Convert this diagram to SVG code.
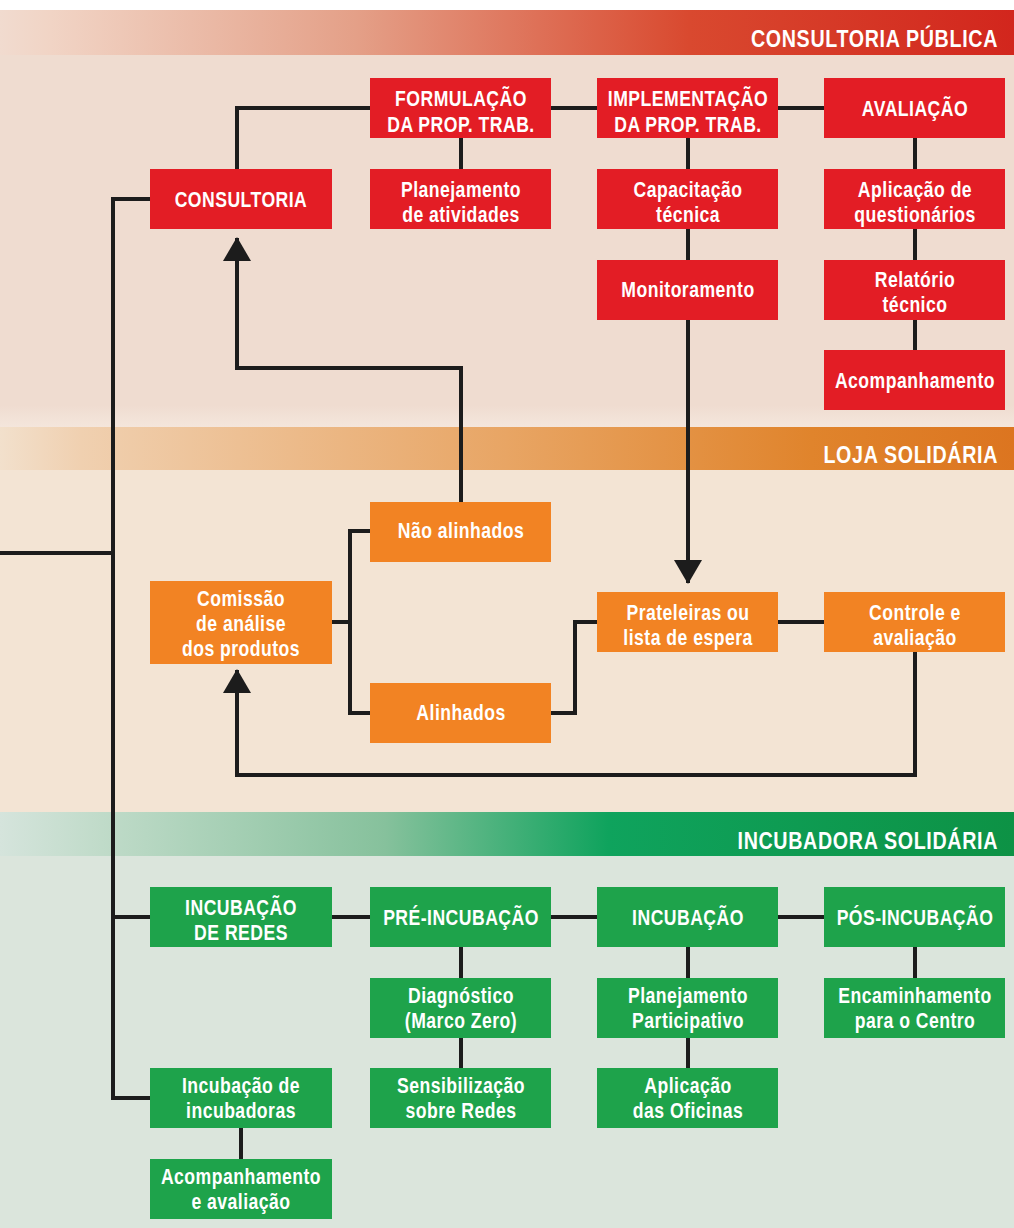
<svg xmlns="http://www.w3.org/2000/svg" width="1014" height="1228" viewBox="0 0 1014 1228">
<defs>
<linearGradient id="gRed" x1="0" y1="0" x2="1" y2="0">
<stop offset="0" stop-color="#f1dbcf"/>
<stop offset="0.05" stop-color="#f1d4c5"/>
<stop offset="0.35" stop-color="#e4a088"/>
<stop offset="0.68" stop-color="#d9492f"/>
<stop offset="1" stop-color="#d2261d"/>
</linearGradient>
<linearGradient id="gOrange" x1="0" y1="0" x2="1" y2="0">
<stop offset="0" stop-color="#f2e0cc"/>
<stop offset="0.08" stop-color="#f0d0b0"/>
<stop offset="0.5" stop-color="#e8a564"/>
<stop offset="0.8" stop-color="#e0842c"/>
<stop offset="1" stop-color="#dc7520"/>
</linearGradient>
<linearGradient id="gGreen" x1="0" y1="0" x2="1" y2="0">
<stop offset="0" stop-color="#d5e4dc"/>
<stop offset="0.1" stop-color="#c0dbc9"/>
<stop offset="0.38" stop-color="#86c19c"/>
<stop offset="0.6" stop-color="#0fa35d"/>
<stop offset="1" stop-color="#0d9245"/>
</linearGradient>
<linearGradient id="fadeTop" x1="0" y1="0" x2="0" y2="1">
<stop offset="0" stop-color="#efdcd0"/>
<stop offset="1" stop-color="#f4e6dc"/>
</linearGradient>
<marker id="arr" viewBox="0 0 24 28" refX="23" refY="14" markerWidth="24" markerHeight="28" markerUnits="userSpaceOnUse" orient="auto">
<path d="M0,0 L24,14 L0,28 Z" fill="#1c1c1c"/>
</marker>
<style>
.red{fill:#e31d25}
.org{fill:#f28323}
.grn{fill:#1ea34b}
.t{font-family:"Liberation Sans",Arial,sans-serif;font-weight:bold;font-size:22px;fill:#ffffff;text-anchor:middle;letter-spacing:0.6px;transform-box:fill-box;transform-origin:50% 50%;transform:scaleX(0.8)}
.h{font-family:"Liberation Sans",Arial,sans-serif;font-weight:bold;font-size:24px;fill:#ffffff;text-anchor:end;letter-spacing:0.8px;transform-box:fill-box;transform-origin:100% 50%;transform:scaleX(0.82)}
.c{fill:none;stroke:#1c1c1c;stroke-width:4}
</style>
</defs>

<!-- backgrounds -->
<rect x="0" y="0" width="1014" height="1228" fill="#ffffff"/>
<rect x="0" y="55" width="1014" height="372" fill="#efdcd0"/>
<rect x="0" y="405" width="1014" height="22" fill="url(#fadeTop)"/>
<rect x="0" y="470" width="1014" height="342" fill="#f3e4d4"/>
<rect x="0" y="856" width="1014" height="372" fill="#dbe5dc"/>

<!-- headers -->
<g id="hdr-consultoria">
<rect x="0" y="10" width="1014" height="45" fill="url(#gRed)"/>
<text class="h" x="998" y="47">CONSULTORIA PÚBLICA</text>
</g>
<g id="hdr-loja">
<rect x="0" y="427" width="1014" height="43" fill="url(#gOrange)"/>
<text class="h" x="998" y="463">LOJA SOLIDÁRIA</text>
</g>
<g id="hdr-incubadora">
<rect x="0" y="812" width="1014" height="44" fill="url(#gGreen)"/>
<text class="h" x="998" y="849">INCUBADORA SOLIDÁRIA</text>
</g>

<!-- connectors -->
<g id="connectors">
<path class="c" d="M0,553 H113"/>
<path class="c" d="M150,199 H113 V1098 H150"/>
<path class="c" d="M113,917 H150"/>
<path class="c" d="M237,169 V108 H370"/>
<path class="c" d="M551,108 H597"/>
<path class="c" d="M778,108 H824"/>
<path class="c" d="M461,138 V169"/>
<path class="c" d="M688,138 V169 M688,229 V260"/>
<path class="c" d="M688,320 V583" marker-end="url(#arr)"/>
<path class="c" d="M915,138 V169 M915,229 V260 M915,320 V350"/>
<path class="c" d="M461,502 V368 H237 V238" marker-end="url(#arr)"/>
<path class="c" d="M332,622 H350 M370,531 H350 V713 H370"/>
<path class="c" d="M551,713 H575 V622 H597"/>
<path class="c" d="M778,622 H824"/>
<path class="c" d="M915,652 V775 H237 V670" marker-end="url(#arr)"/>
<path class="c" d="M332,917 H370 M551,917 H597 M778,917 H824"/>
<path class="c" d="M461,947 V978 M461,1038 V1068"/>
<path class="c" d="M688,947 V978 M688,1038 V1068"/>
<path class="c" d="M915,947 V978"/>
<path class="c" d="M241,1128 V1159"/>
</g>

<!-- Consultoria nodes -->
<g id="n-formulacao"><rect class="red" x="370" y="78" width="181" height="60"/><text class="t" x="461" y="106">FORMULAÇÃO</text><text class="t" x="461" y="132">DA PROP. TRAB.</text></g>
<g id="n-implementacao"><rect class="red" x="597" y="78" width="181" height="60"/><text class="t" x="688" y="106">IMPLEMENTAÇÃO</text><text class="t" x="688" y="132">DA PROP. TRAB.</text></g>
<g id="n-avaliacao"><rect class="red" x="824" y="78" width="181" height="60"/><text class="t" x="915" y="116">AVALIAÇÃO</text></g>
<g id="n-consultoria"><rect class="red" x="150" y="169" width="182" height="60"/><text class="t" x="241" y="207">CONSULTORIA</text></g>
<g id="n-planejamento"><rect class="red" x="370" y="169" width="181" height="60"/><text class="t" x="461" y="197">Planejamento</text><text class="t" x="461" y="222">de atividades</text></g>
<g id="n-capacitacao"><rect class="red" x="597" y="169" width="181" height="60"/><text class="t" x="688" y="197">Capacitação</text><text class="t" x="688" y="222">técnica</text></g>
<g id="n-aplicacao"><rect class="red" x="824" y="169" width="181" height="60"/><text class="t" x="915" y="197">Aplicação de</text><text class="t" x="915" y="222">questionários</text></g>
<g id="n-monitoramento"><rect class="red" x="597" y="260" width="181" height="60"/><text class="t" x="688" y="297">Monitoramento</text></g>
<g id="n-relatorio"><rect class="red" x="824" y="260" width="181" height="60"/><text class="t" x="915" y="287">Relatório</text><text class="t" x="915" y="312">técnico</text></g>
<g id="n-acompanhamento"><rect class="red" x="824" y="350" width="181" height="60"/><text class="t" x="915" y="388">Acompanhamento</text></g>

<!-- Loja nodes -->
<g id="n-naoalinhados"><rect class="org" x="370" y="502" width="181" height="60"/><text class="t" x="461" y="538">Não alinhados</text></g>
<g id="n-comissao"><rect class="org" x="150" y="581" width="182" height="83"/><text class="t" x="241" y="606">Comissão</text><text class="t" x="241" y="631">de análise</text><text class="t" x="241" y="656">dos produtos</text></g>
<g id="n-prateleiras"><rect class="org" x="597" y="592" width="181" height="60"/><text class="t" x="688" y="620">Prateleiras ou</text><text class="t" x="688" y="645">lista de espera</text></g>
<g id="n-controle"><rect class="org" x="824" y="592" width="181" height="60"/><text class="t" x="915" y="620">Controle e</text><text class="t" x="915" y="645">avaliação</text></g>
<g id="n-alinhados"><rect class="org" x="370" y="683" width="181" height="60"/><text class="t" x="461" y="720">Alinhados</text></g>

<!-- Incubadora nodes -->
<g id="n-incredes"><rect class="grn" x="150" y="887" width="182" height="60"/><text class="t" x="241" y="915">INCUBAÇÃO</text><text class="t" x="241" y="940">DE REDES</text></g>
<g id="n-preinc"><rect class="grn" x="370" y="887" width="181" height="60"/><text class="t" x="461" y="925">PRÉ-INCUBAÇÃO</text></g>
<g id="n-incubacao"><rect class="grn" x="597" y="887" width="181" height="60"/><text class="t" x="688" y="925">INCUBAÇÃO</text></g>
<g id="n-posinc"><rect class="grn" x="824" y="887" width="181" height="60"/><text class="t" x="915" y="925">PÓS-INCUBAÇÃO</text></g>
<g id="n-diagnostico"><rect class="grn" x="370" y="978" width="181" height="60"/><text class="t" x="461" y="1003">Diagnóstico</text><text class="t" x="461" y="1028">(Marco Zero)</text></g>
<g id="n-planpart"><rect class="grn" x="597" y="978" width="181" height="60"/><text class="t" x="688" y="1003">Planejamento</text><text class="t" x="688" y="1028">Participativo</text></g>
<g id="n-encaminhamento"><rect class="grn" x="824" y="978" width="181" height="60"/><text class="t" x="915" y="1003">Encaminhamento</text><text class="t" x="915" y="1028">para o Centro</text></g>
<g id="n-incinc"><rect class="grn" x="150" y="1068" width="182" height="60"/><text class="t" x="241" y="1093">Incubação de</text><text class="t" x="241" y="1118">incubadoras</text></g>
<g id="n-sensibilizacao"><rect class="grn" x="370" y="1068" width="181" height="60"/><text class="t" x="461" y="1093">Sensibilização</text><text class="t" x="461" y="1118">sobre Redes</text></g>
<g id="n-oficinas"><rect class="grn" x="597" y="1068" width="181" height="60"/><text class="t" x="688" y="1093">Aplicação</text><text class="t" x="688" y="1118">das Oficinas</text></g>
<g id="n-acompaval"><rect class="grn" x="150" y="1159" width="182" height="60"/><text class="t" x="241" y="1184">Acompanhamento</text><text class="t" x="241" y="1209">e avaliação</text></g>
</svg>
